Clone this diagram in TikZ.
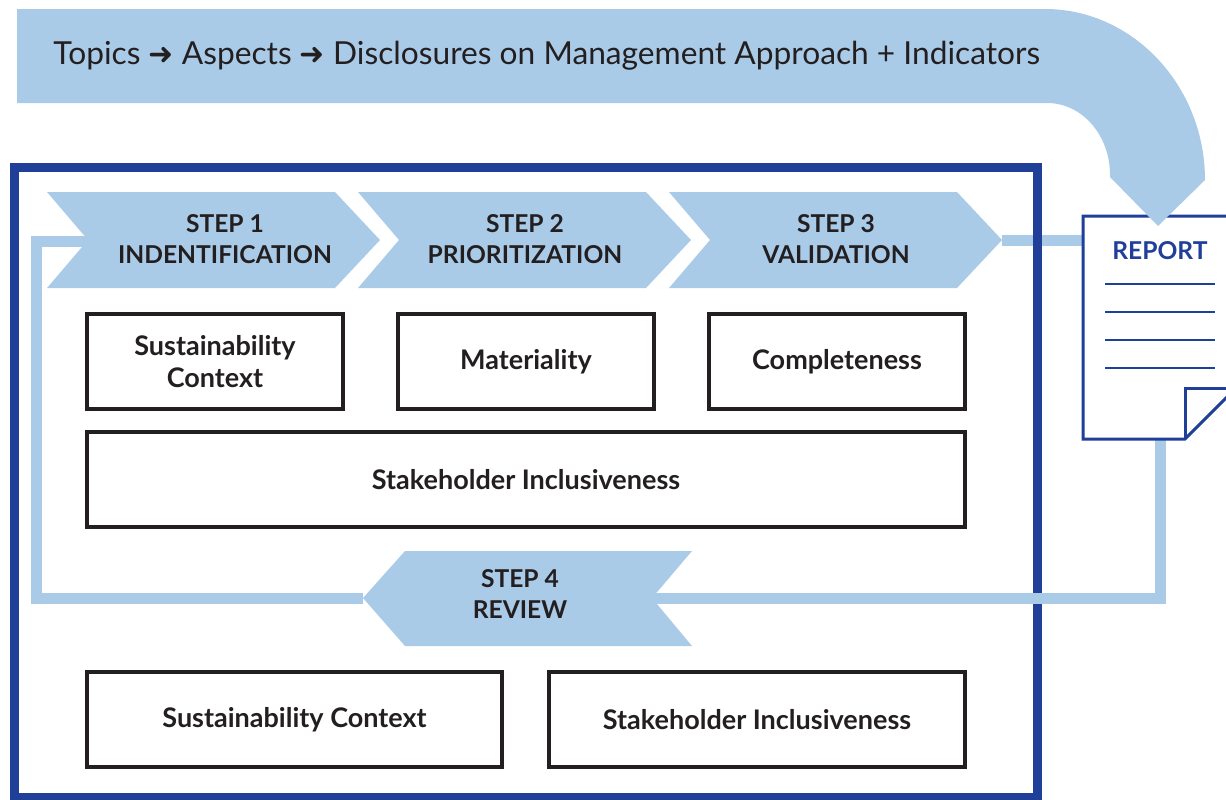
\documentclass[tikz,border=0pt]{standalone}
\usepackage{fontspec}
\setmainfont{Lato}
\newfontfamily\arrowfont{DejaVu Sans}
\definecolor{paleblue}{HTML}{AACBE8}
\definecolor{frameblue}{HTML}{1F3F99}
\definecolor{inkblack}{HTML}{231F20}
\newcommand{\thenarrow}{{\arrowfont\fontsize{15}{16}\selectfont ➜}}
\begin{document}
\begin{tikzpicture}[x=0.5pt,y=-0.5pt,
  steplabel/.style={font=\fontsize{12.3}{15.5}\selectfont\bfseries, text=inkblack, align=center},
  pillar/.style={draw=inkblack, line width=2pt, fill=white, minimum height=47.5pt,
    inner sep=0pt, outer sep=0pt, align=center, font=\fontsize{13.5}{16}\selectfont\bfseries, text=inkblack},
  loopline/.style={draw=paleblue, line width=5.5pt},
  ruled/.style={draw=frameblue, line width=0.7pt}]
\useasboundingbox (0,0) rectangle (1226,799);
\begin{scope}
\clip (0,0) rectangle (1226,799);
% link from step 3 to the report, under the frame
\coordinate (s3tip) at (1002,240);
\coordinate (repin) at (1083,240);
\draw[loopline] (s3tip) -- (repin);
% frame
\draw[frameblue, line width=4.5pt] (14.5,167) rectangle (1037,797);
% return loop
\coordinate (repout) at (1160,439);
\coordinate (s4notch) at (652,598);
\coordinate (s4tip) at (363,598);
\coordinate (s1notch) at (88,241);
\draw[loopline] (repout) |- (s4notch);
\draw[loopline] (s4tip) -| (36,241) -- (s1notch);
% steps 1-3
\foreach \x/\tx/\n/\name in {47/225/1/INDENTIFICATION, 358/525/2/PRIORITIZATION, 669/836/3/VALIDATION}{
  \fill[paleblue] (\x,192) -- ++(288,0) -- ++(45,48) -- ++(-45,48) -- ++(-288,0) -- ++(41,-48) -- cycle;
  \node[steplabel] (step\n) at (\tx,239) {STEP \n\\\name};
}
% step 4
\fill[paleblue] (s4tip) -- (405,551) -- (692,551) -- (s4notch) -- (692,646) -- (405,646) -- cycle;
\node[steplabel] (step4) at (520,594) {STEP 4\\REVIEW};
% principles
\node[pillar, minimum width=128pt] (ctx) at (215,361.5) {Sustainability\\Context};
\node[pillar, minimum width=128pt] (mat) at (526,361.5) {Materiality};
\node[pillar, minimum width=128pt] (comp) at (837,361.5) {Completeness};
\node[pillar, minimum width=439pt] (incl) at (526,479.5) {Stakeholder Inclusiveness};
\node[pillar, minimum width=207.5pt] (ctxb) at (294.5,719.5) {Sustainability Context};
\node[pillar, minimum width=208pt] (inclb) at (757,719.5) {Stakeholder Inclusiveness};
% report sheet
\filldraw[fill=white, draw=frameblue, line width=1.5pt, line join=miter]
  (1083,216) -- (1236,216) -- (1236,388) -- (1185,439) -- (1083,439) -- cycle;
\draw[frameblue, line width=1.5pt] (1185,439) -- (1185,388) -- (1236,388);
\node[font=\fontsize{12.3}{14}\selectfont\bfseries, text=frameblue] (report) at (1160,251) {REPORT};
\foreach \y in {284,312,340,368}
  \draw[ruled] (1105,\y) -- (1215,\y);
% banner bending down onto the report
\fill[paleblue] (17,9) -- (1045,9) .. controls (1133,9) and (1205,86) .. (1205,180)
  -- (1158,226) -- (1110,177) -- (1110,175) .. controls (1110,135) and (1082,103) .. (1047,103)
  -- (17,103) -- cycle;
\node[anchor=west, font=\fontsize{15.85}{18}\selectfont, text=inkblack, inner sep=0pt] (topics) at (53,56)
  {Topics \thenarrow{} Aspects \thenarrow{} Disclosures on Management Approach + Indicators};
\end{scope}
\end{tikzpicture}
\end{document}
